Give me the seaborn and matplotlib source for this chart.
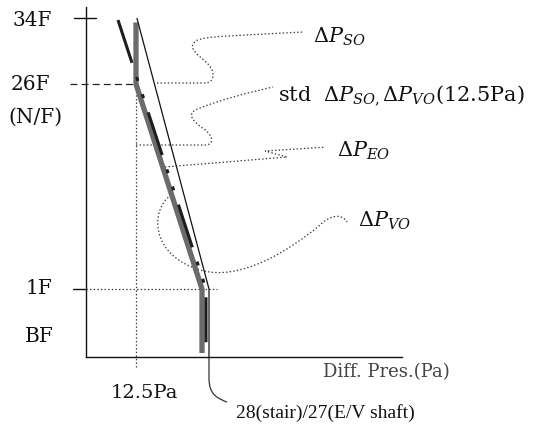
import matplotlib
matplotlib.use("Agg")
import matplotlib.pyplot as plt
from matplotlib.path import Path
from matplotlib.patches import PathPatch
import pandas as pd
import seaborn as sns

# pressure profiles (x = differential pressure in Pa, y = floor level)
stair_x = [12.5, 12.5, 29.0, 29.0]
stair_y = [33.5, 26.0, 1.0, -6.8]
shaft_x = [8.0, 30.0, 30.0]
shaft_y = [33.8, 1.0, -7.3]
limit_x = [12.75, 30.75, 30.75]
limit_y = [34.0, 1.0, -7.3]

floor_labels = ["34F", "26F", "(N/F)", "1F", "BF"]
floor_label_y = [33.7, 25.9, 22.0, 1.1, -4.85]
floor_label_x = [-13.5, -14.0, -12.75, -11.75, -11.75]
std_pressure = 12.5

# callout curves (x in Pa, y in floors) and their labels
so_curve = [(17.75, 26.12), (29.75, 26.12), (31.75, 26.12), (32.75, 27.22), (30.5, 28.44),
            (28.25, 29.54), (25.0, 30.39), (27.5, 31.24), (29.25, 31.85), (36.0, 31.85), (54.25, 32.34)]
std_curve = [(12.5, 18.56), (29.75, 18.56), (32.0, 18.56), (32.0, 19.66), (29.5, 20.51),
             (26.5, 21.49), (24.75, 22.46), (28.5, 23.07), (33.5, 24.05), (41.0, 25.02), (46.75, 25.63)]
eo_curve = [(19.75, 15.88), (50.25, 17.1), (44.75, 17.83), (59.75, 18.3)]
vo_curve = [(21.25, 12.46), (16.0, 10.63), (16.0, 5.15), (28.5, 3.32), (38.5, 1.85), (51.0, 5.76),
            (58.5, 8.8), (61.0, 10.02), (64.0, 10.27), (65.25, 9.17)]
note_curve = [(30.75, -7.3), (30.75, -9.85), (30.75, -12.0), (33.0, -12.3), (35.25, -12.8)]

sns.set_style("white")
plt.rcParams["font.family"] = ["DejaVu Serif"]
plt.rcParams["mathtext.fontset"] = "dejavuserif"
plt.rcParams["lines.scale_dashes"] = False

fig = plt.figure(figsize=(5.33, 4.28), dpi=100)
ax = fig.add_axes([86 / 533, 71 / 428, 316 / 533, 350 / 428])
ax.set_xlim(0, 79)
ax.set_ylim(-7.29, 35.39)
for s in ["top", "right"]:
    ax.spines[s].set_visible(False)
for s in ["left", "bottom"]:
    ax.spines[s].set_color("#111111")
    ax.spines[s].set_linewidth(1.0)
ax.set_xticks([])
ax.set_yticks([])

stair = pd.DataFrame({"x": stair_x, "y": stair_y})
shaft = pd.DataFrame({"x": shaft_x, "y": shaft_y})
limit = pd.DataFrame({"x": limit_x, "y": limit_y})

sns.lineplot(data=stair, x="x", y="y", sort=False, estimator=None, ax=ax,
             color="#6b6b6b", linewidth=3.8, solid_capstyle="butt", solid_joinstyle="miter", zorder=3)
sns.lineplot(data=shaft, x="x", y="y", sort=False, estimator=None, ax=ax,
             color="#1e1e1e", linewidth=2.2, zorder=4,
             linestyle=(0, (32.4, 10.8, 2.9, 10.1, 2.9, 10.8)), dash_capstyle="butt")
sns.lineplot(data=limit, x="x", y="y", sort=False, estimator=None, ax=ax,
             color="#111111", linewidth=0.9, zorder=5)
ax.set_xlabel("")
ax.set_ylabel("")

# reference lines
dot = (0, (1, 1.6))
ax.plot([-4, std_pressure], [26, 26], color="#222222", lw=0.9, ls=(0, (5, 3)), clip_on=False)
ax.plot([0, 32.75], [1, 1], color="#333333", lw=0.9, ls=dot, clip_on=False)
ax.plot([std_pressure, std_pressure], [26, -8.5], color="#333333", lw=0.9, ls=dot, clip_on=False)
ax.plot([-3.25, 0], [1, 1], color="#111111", lw=1.0, clip_on=False)
ax.plot([-3, 2.5], [34, 34], color="#111111", lw=1.0, clip_on=False)


def callout(pts, codes, ls):
    patch = PathPatch(Path(pts, codes), fill=False, edgecolor="#333333", lw=0.9,
                      linestyle=ls, clip_on=False, zorder=2)
    ax.add_patch(patch)


M, L, C = Path.MOVETO, Path.LINETO, Path.CURVE4
callout(so_curve, [M, L, C, C, C, C, C, C, C, C, C], dot)
callout(std_curve, [M, L, C, C, C, C, C, C, C, C, C], dot)
callout(eo_curve, [M, L, L, L], dot)
callout(vo_curve, [M, C, C, C, C, C, C, C, C, C], dot)
callout(note_curve, [M, L, C, C, C], "-")

for lab, lx, ly in zip(floor_labels, floor_label_x, floor_label_y):
    ax.text(lx, ly, lab, fontsize=14.5, ha="center", va="center", color="#111111", clip_on=False)

ax.text(14.5, -11.7, "12.5Pa", fontsize=14, ha="center", va="center", color="#111111")
ax.text(75, -9.1, "Diff. Pres.(Pa)", fontsize=13, ha="center", va="center", color="#444444")
ax.text(59.75, -14.1, "28(stair)/27(E/V shaft)", fontsize=14, ha="center", va="center",
        family=["Liberation Serif"], color="#111111")

ax.text(56.75, 31.0, r"$\Delta P_{SO}$", fontsize=15, ha="left", va="baseline", color="#111111")
ax.text(48.0, 24.05, r"std  $\Delta P_{SO,}\Delta P_{VO}$(12.5Pa)", fontsize=15, ha="left",
        va="baseline", color="#111111")
ax.text(62.75, 17.1, r"$\Delta P_{EO}$", fontsize=15, ha="left", va="baseline", color="#111111")
ax.text(68.0, 8.56, r"$\Delta P_{VO}$", fontsize=15, ha="left", va="baseline", color="#111111")

fig.savefig("out.png", dpi=100)
